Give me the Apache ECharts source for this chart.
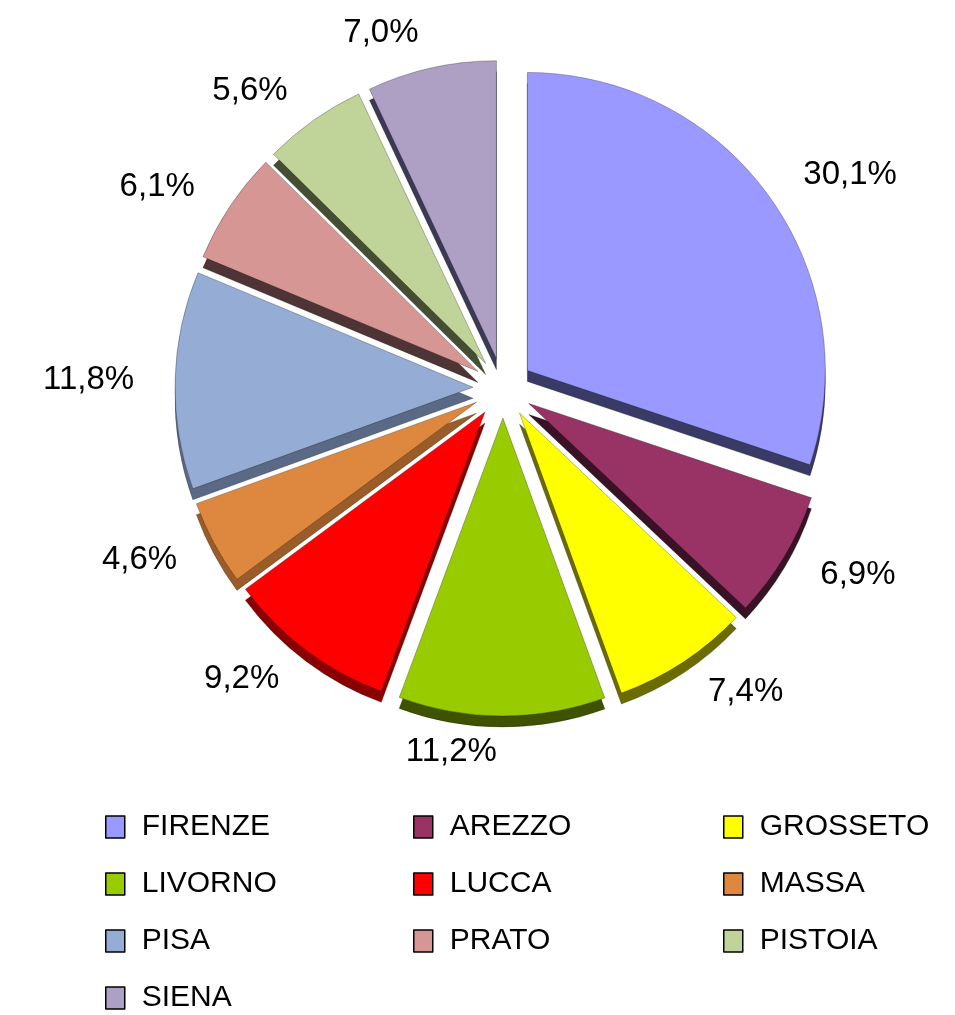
<!DOCTYPE html>
<html>
<head>
<meta charset="utf-8">
<script src="https://cdn.jsdelivr.net/npm/echarts@6/dist/echarts.min.js"></script>
<style>
  html, body { margin: 0; padding: 0; background: #fff; }
  #chart { width: 955px; height: 1015px; }
</style>
</head>
<body>
<div id="chart"></div>
<script>
const provinces = ['FIRENZE', 'AREZZO', 'GROSSETO', 'LIVORNO', 'LUCCA', 'MASSA', 'PISA', 'PRATO', 'PISTOIA', 'SIENA'];
const shares = [30.1, 6.9, 7.4, 11.2, 9.2, 4.6, 11.8, 6.1, 5.6, 7.0];
const topColors = ['#9999ff', '#993366', '#ffff00', '#99cc00', '#ff0000', '#de873f', '#95acd4', '#d69694', '#c0d49a', '#ae9fc4'];
const sideColors = ['#3a3a66', '#3a1226', '#6b6b00', '#3e5200', '#8a0000', '#9a5c28', '#5a6985', '#4e3434', '#454e33', '#3c3956'];

const legendCols = [
  ['FIRENZE', 'LIVORNO', 'PISA', 'SIENA'],
  ['AREZZO', 'LUCCA', 'PRATO'],
  ['GROSSETO', 'MASSA', 'PISTOIA']
];

const chart = echarts.init(document.getElementById('chart'));

const center = [503, 388];
const radius = 298;
const depth = 11;
const explode = 30;
const fontFamily = '"Liberation Sans", Arial, sans-serif';

const topData = provinces.map((name, idx) => ({
  name: name,
  value: shares[idx],
  selected: true,
  itemStyle: { color: topColors[idx] }
}));

const sideData = provinces.map((name, idx) => ({
  name: name,
  value: shares[idx],
  selected: true,
  itemStyle: { color: sideColors[idx] }
}));

const legendX = [105, 413, 723];

chart.setOption({
  animation: false,
  legend: legendCols.map((col, i) => ({
    data: col,
    orient: 'vertical',
    left: legendX[i],
    top: 812,
    height: 203,
    padding: 0,
    itemWidth: 19,
    itemHeight: 22,
    itemGap: 27,
    icon: 'rect',
    selectedMode: false,
    itemStyle: { borderColor: '#000', borderWidth: 1.5 },
    textStyle: { fontSize: 30, color: '#000', fontFamily: fontFamily, padding: [0, 0, 0, 12] }
  })),
  series: [
    {
      name: 'quota',
      type: 'pie',
      center: center,
      radius: radius,
      startAngle: 90,
      selectedMode: 'multiple',
      selectedOffset: explode,
      silent: true,
      z: 2,
      label: {
        show: true,
        position: 'outside',
        fontSize: 33,
        color: '#000',
        fontFamily: fontFamily,
        formatter: (p) => p.value.toFixed(1).replace('.', ',') + '%'
      },
      labelLine: { show: false, length: 36, length2: 0 },
      itemStyle: { borderColor: 'rgba(0,0,0,0.45)', borderWidth: 0.6 },
      emphasis: { disabled: true },
      select: { itemStyle: { borderColor: 'rgba(0,0,0,0.45)', borderWidth: 0.6 } },
      data: topData
    },
    {
      name: 'side',
      type: 'pie',
      center: [center[0], center[1] + depth],
      radius: radius,
      startAngle: 90,
      selectedMode: 'multiple',
      selectedOffset: explode,
      silent: true,
      z: 1,
      label: { show: false },
      labelLine: { show: false },
      itemStyle: { borderColor: 'rgba(0,0,0,0.4)', borderWidth: 0.6 },
      emphasis: { disabled: true },
      select: { itemStyle: { borderColor: 'rgba(0,0,0,0.4)', borderWidth: 0.6 } },
      data: sideData
    }
  ]
});
</script>
</body>
</html>
